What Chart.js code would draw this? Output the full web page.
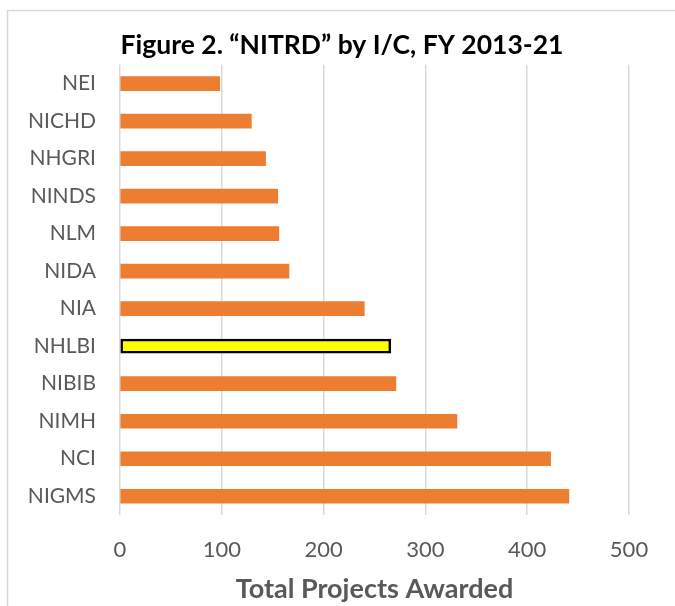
<!DOCTYPE html>
<html>
<head>
<meta charset="utf-8">
<script src="https://cdn.jsdelivr.net/npm/chart.js@4/dist/chart.umd.min.js"></script>
<style>
  html, body { margin: 0; padding: 0; background: #fff; }
  #wrap { width: 675px; height: 606px; position: relative; }
</style>
</head>
<body>
<div id="wrap"><canvas id="nitrdChart" width="675" height="606"></canvas></div>
<script>
// institutes / centers, top to bottom as shown
const institutes = ['NEI', 'NICHD', 'NHGRI', 'NINDS', 'NLM', 'NIDA', 'NIA', 'NHLBI', 'NIBIB', 'NIMH', 'NCI', 'NIGMS'];
const projectsAwarded = [98, 129, 143, 155, 156, 166, 240, 266, 271, 331, 423, 441];
const highlighted = 'NHLBI';
const xTicks = [0, 100, 200, 300, 400, 500];

const FONT = 'Lato, "Open Sans", sans-serif';
const GREY = '#595959';

// light outer frame, and center the title on the whole box rather than the padded area
const frame = {
    id: 'frame',
    afterLayout(chart) {
        const t = chart.titleBlock;
        if (t) {
            t.left = 9;
            t.right = chart.width;
            t.width = t.right - t.left;
        }
    },
    beforeDraw(chart) {
        const c = chart.ctx;
        c.save();
        c.strokeStyle = '#d9d9d9';
        c.lineWidth = 1.5;
        c.strokeRect(7.5, 10.5, 720, 700);
        c.restore();
    }
};

const ctx = document.getElementById('nitrdChart').getContext('2d');
new Chart(ctx, {
    type: 'bar',
    data: {
        labels: institutes,
        datasets: [{
            label: 'Total Projects Awarded',
            data: projectsAwarded,
            backgroundColor: institutes.map(n => n === highlighted ? '#ffff00' : '#ed7d31'),
            borderColor: '#000000',
            borderWidth: institutes.map(n => n === highlighted ? 2.5 : 0),
            borderSkipped: false,
            barThickness: 14
        }]
    },
    options: {
        indexAxis: 'y',
        responsive: false,
        animation: false,
        layout: { padding: { left: 0, right: 46, top: 0, bottom: 0 } },
        scales: {
            x: {
                min: 0,
                max: 500,
                afterBuildTicks: scale => { scale.ticks = xTicks.map(v => ({ value: v })); },
                afterFit: scale => { scale.height = 91; },
                border: { display: false },
                grid: { color: '#d9d9d9', lineWidth: 1.5, drawTicks: false },
                ticks: { color: GREY, font: { family: FONT, size: 22 }, padding: 22 },
                title: {
                    display: true,
                    text: 'Total Projects Awarded',
                    color: GREY,
                    font: { family: FONT, size: 27, weight: 'bold' },
                    padding: { top: 0, bottom: 1 }
                }
            },
            y: {
                afterFit: scale => { scale.width = 120; },
                border: { display: false },
                grid: { display: false, drawTicks: false },
                ticks: { color: GREY, font: { family: FONT, size: 21 }, padding: 24 }
            }
        },
        plugins: {
            legend: { display: false },
            tooltip: { enabled: false },
            title: {
                display: true,
                text: 'Figure 2. \u201cNITRD\u201d by I/C, FY 2013-21',
                color: '#000000',
                font: { family: FONT, size: 26.5, weight: 'bold' },
                padding: { top: 30, bottom: 3 }
            }
        }
    },
    plugins: [frame]
});
</script>
</body>
</html>
